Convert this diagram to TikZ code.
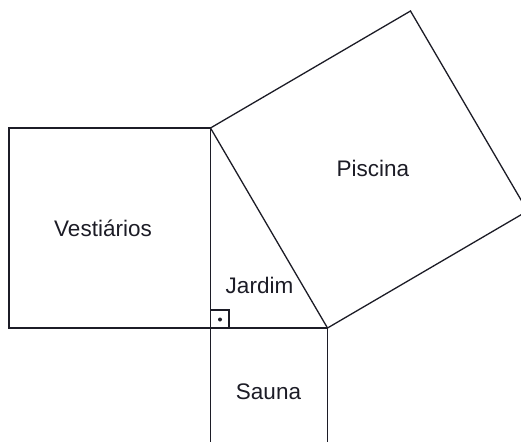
\documentclass[tikz,border=0pt]{standalone}
\usepackage{fontspec}
\setmainfont{Liberation Sans}
\definecolor{ink}{RGB}{28,28,38}
\tikzset{
  edge/.style={draw=ink, line width=1.3pt, line join=miter},
  label/.style={inner sep=0pt, anchor=base, text=ink, font=\fontsize{22.5}{26}\selectfont}
}
\begin{document}
\begin{tikzpicture}[x=1pt,y=-1pt]
\useasboundingbox (0,0) rectangle (521,441);
\clip (0,0) rectangle (521,441);
% triangle vertices
\coordinate (A) at (210.5,128);
\coordinate (R) at (210.5,328);
\coordinate (B) at (327.5,328);
% square on vertical leg
\coordinate (V1) at (9,128);
\coordinate (V2) at (9,328);
% square on hypotenuse
\coordinate (D) at (410.5,11);
\coordinate (C) at (527.5,211);
% square on horizontal leg
\coordinate (S1) at (210.5,445);
\coordinate (S2) at (327.5,445);
% right angle mark
\coordinate (M1) at (210.5,310);
\coordinate (M2) at (229,310);
\coordinate (M3) at (229,328);
\coordinate (dot) at (220,319.5);

\draw[edge] (A) -- (V1) -- (V2) -- (R);
\draw[edge] (A) -- (R) -- (B);
\draw[edge] (A) -- (B);
\draw[edge] (A) -- (D) -- (C) -- (B);
\draw[edge] (R) -- (S1);
\draw[edge] (B) -- (S2);
\draw[edge] (M1) -- (M2) -- (M3);
\fill[ink] (dot) circle (2pt);

\node[label] (piscina) at (373,176) {Piscina};
\node[label] (vest) at (103,236) {Vestiários};
\node[label] (jardim) at (259.5,293) {Jardim};
\node[label] (sauna) at (268.5,399) {Sauna};
\end{tikzpicture}
\end{document}
